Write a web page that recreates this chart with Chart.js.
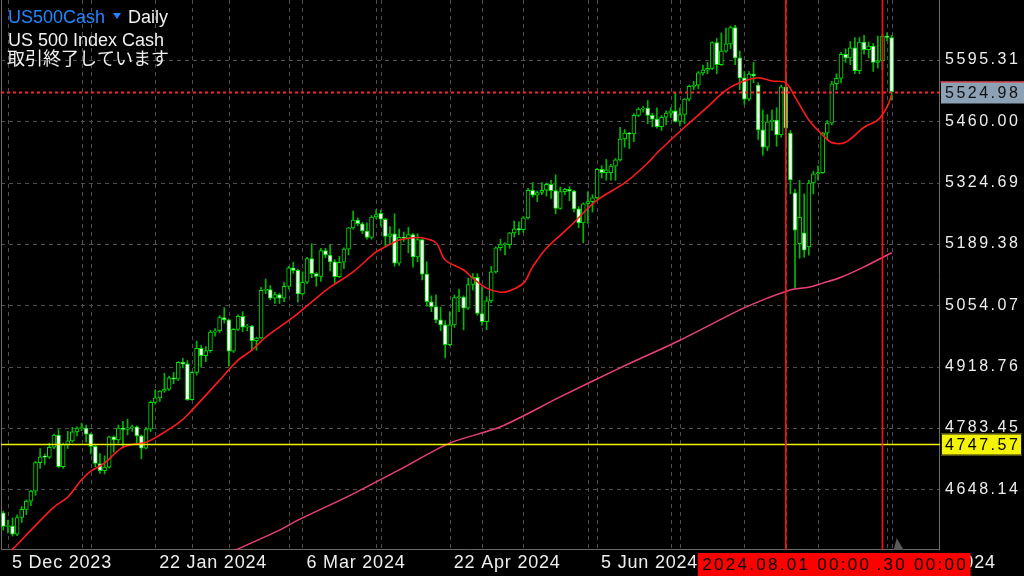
<!DOCTYPE html>
<html>
<head>
<meta charset="utf-8">
<script src="https://cdn.jsdelivr.net/npm/chart.js@4.4.1/dist/chart.umd.min.js"></script>
<style>
html, body { margin: 0; background: #000; }
canvas { display: block; }
</style>
</head>
<body>
<canvas id="chart" width="1024" height="576"></canvas>
<script>
// daily bars, Dec 4 2023 .. Sep 3 2024 (index 0..193), empty slots after that
const barCount = 204;

const opens = [
    4596, 4566, 4567, 4549, 4586, 4604, 4622, 4644, 4707, 4720,
    4719, 4741, 4768, 4698, 4747, 4755, 4775, 4782, 4783, 4770,
    4743, 4705, 4689, 4697, 4764, 4757, 4783, 4780, 4784, 4786,
    4766, 4739, 4781, 4840, 4850, 4865, 4869, 4894, 4891, 4928,
    4925, 4846, 4906, 4959, 4943, 4954, 4995, 4998, 5027, 5022,
    4953, 5001, 5030, 5006, 5008, 4976, 4982, 5087, 5089, 5070,
    5078, 5070, 5096, 5137, 5131, 5079, 5105, 5157, 5124, 5118,
    5175, 5165, 5150, 5117, 5149, 5178, 5225, 5242, 5234, 5218,
    5204, 5249, 5257, 5244, 5206, 5212, 5147, 5204, 5202, 5210,
    5161, 5199, 5123, 5062, 5051, 5022, 5011, 4967, 5011, 5071,
    5072, 5048, 5100, 5116, 5036, 5018, 5064, 5128, 5181, 5188,
    5188, 5214, 5223, 5221, 5247, 5308, 5297, 5303, 5308, 5321,
    5307, 5268, 5305, 5310, 5306, 5267, 5236, 5278, 5283, 5291,
    5354, 5347, 5347, 5361, 5375, 5421, 5434, 5432, 5473, 5487,
    5489, 5473, 5465, 5448, 5469, 5478, 5483, 5460, 5475, 5509,
    5537, 5540, 5567, 5573, 5577, 5634, 5585, 5615, 5631, 5667,
    5600, 5556, 5509, 5564, 5540, 5441, 5403, 5459, 5463, 5430,
    5536, 5434, 5302, 5190, 5214, 5183, 5324, 5344, 5347, 5434,
    5456, 5543, 5555, 5608, 5600, 5622, 5572, 5635, 5618, 5626,
    5590, 5594, 5648, 5645
];
const highs = [
    4600, 4580, 4585, 4592, 4610, 4625, 4646, 4710, 4738, 4726,
    4750, 4770, 4780, 4750, 4776, 4785, 4786, 4794, 4790, 4772,
    4745, 4727, 4722, 4765, 4766, 4790, 4798, 4803, 4790, 4788,
    4768, 4785, 4843, 4868, 4866, 4904, 4898, 4906, 4930, 4937,
    4932, 4908, 4975, 4966, 4963, 4999, 5003, 5031, 5049, 5024,
    5003, 5033, 5040, 5012, 5010, 4984, 5094, 5112, 5098, 5083,
    5080, 5104, 5140, 5149, 5134, 5128, 5160, 5190, 5126, 5180,
    5180, 5188, 5155, 5162, 5181, 5226, 5262, 5247, 5237, 5236,
    5252, 5265, 5264, 5246, 5228, 5256, 5222, 5216, 5226, 5213,
    5212, 5200, 5150, 5075, 5077, 5050, 5020, 5040, 5077, 5090,
    5075, 5114, 5124, 5124, 5095, 5073, 5140, 5183, 5200, 5192,
    5215, 5240, 5238, 5250, 5312, 5325, 5306, 5325, 5324, 5330,
    5342, 5315, 5312, 5316, 5308, 5272, 5280, 5305, 5298, 5356,
    5362, 5376, 5365, 5378, 5447, 5442, 5436, 5477, 5490, 5493,
    5506, 5478, 5490, 5473, 5483, 5490, 5524, 5490, 5510, 5540,
    5548, 5570, 5584, 5590, 5636, 5643, 5655, 5666, 5670, 5672,
    5615, 5570, 5570, 5590, 5545, 5485, 5475, 5485, 5490, 5540,
    5560, 5440, 5310, 5330, 5300, 5330, 5350, 5362, 5436, 5462,
    5548, 5565, 5612, 5620, 5636, 5645, 5645, 5650, 5635, 5632,
    5648, 5652, 5655, 5650
];
const lows = [
    4558, 4552, 4545, 4546, 4575, 4592, 4612, 4635, 4694, 4703,
    4716, 4738, 4696, 4694, 4738, 4752, 4766, 4778, 4752, 4726,
    4698, 4683, 4682, 4695, 4730, 4750, 4740, 4768, 4776, 4750,
    4715, 4737, 4775, 4836, 4842, 4862, 4866, 4881, 4888, 4916,
    4844, 4845, 4900, 4918, 4930, 4950, 4986, 4994, 5015, 4920,
    4950, 4998, 4996, 4998, 4954, 4955, 4980, 5080, 5066, 5058,
    5058, 5062, 5090, 5125, 5061, 5076, 5102, 5115, 5096, 5107,
    5159, 5130, 5104, 5115, 5135, 5165, 5222, 5230, 5212, 5200,
    5200, 5245, 5229, 5184, 5189, 5140, 5142, 5195, 5170, 5138,
    5150, 5110, 5052, 5040, 5015, 4998, 4938, 4965, 5005, 5040,
    5000, 5045, 5088, 5032, 5010, 5000, 5060, 5125, 5175, 5165,
    5180, 5205, 5210, 5215, 5244, 5293, 5283, 5298, 5295, 5290,
    5256, 5266, 5298, 5285, 5260, 5225, 5192, 5235, 5260, 5289,
    5335, 5330, 5330, 5330, 5372, 5403, 5400, 5415, 5470, 5480,
    5455, 5448, 5445, 5440, 5452, 5468, 5458, 5450, 5455, 5505,
    5530, 5532, 5562, 5565, 5574, 5565, 5583, 5612, 5620, 5585,
    5530, 5497, 5505, 5545, 5420, 5385, 5395, 5440, 5405, 5425,
    5410, 5300, 5092, 5158, 5160, 5165, 5300, 5330, 5345, 5420,
    5452, 5530, 5545, 5590, 5585, 5565, 5565, 5608, 5600, 5570,
    5578, 5575, 5638, 5507
];
const closes = [
    4566, 4567, 4549, 4586, 4604, 4622, 4644, 4707, 4720, 4719,
    4741, 4768, 4698, 4747, 4755, 4775, 4782, 4783, 4770, 4743,
    4705, 4689, 4697, 4764, 4757, 4783, 4780, 4784, 4786, 4766,
    4739, 4781, 4840, 4850, 4865, 4869, 4894, 4891, 4928, 4925,
    4846, 4906, 4959, 4943, 4954, 4995, 4998, 5027, 5022, 4953,
    5001, 5030, 5006, 5008, 4976, 4982, 5087, 5089, 5070, 5078,
    5070, 5096, 5137, 5131, 5079, 5105, 5157, 5124, 5118, 5175,
    5165, 5150, 5117, 5149, 5178, 5225, 5242, 5234, 5218, 5204,
    5249, 5254, 5244, 5206, 5212, 5147, 5204, 5202, 5210, 5161,
    5199, 5123, 5062, 5051, 5022, 5011, 4967, 5011, 5071, 5072,
    5048, 5100, 5116, 5036, 5018, 5064, 5128, 5181, 5188, 5188,
    5214, 5223, 5221, 5247, 5308, 5297, 5303, 5308, 5321, 5307,
    5268, 5305, 5310, 5306, 5267, 5236, 5278, 5283, 5291, 5354,
    5347, 5353, 5361, 5375, 5421, 5434, 5432, 5473, 5487, 5489,
    5473, 5465, 5448, 5469, 5478, 5483, 5460, 5475, 5509, 5537,
    5540, 5567, 5573, 5577, 5634, 5585, 5615, 5631, 5667, 5600,
    5556, 5509, 5564, 5560, 5441, 5403, 5459, 5463, 5430, 5536,
    5445, 5331, 5220, 5248, 5176, 5324, 5344, 5347, 5434, 5456,
    5543, 5555, 5608, 5600, 5622, 5572, 5635, 5618, 5626, 5590,
    5594, 5648, 5645, 5525
];

// moving averages at a few bars
const redMaIndex = [0, 2, 6, 11, 14, 17, 19, 22, 26, 31, 34, 38, 40, 47, 51, 54, 57, 63, 68, 71,
    76, 81, 83, 86, 89, 91, 94, 96, 100, 102, 105, 108, 110, 113, 115, 118, 123, 129, 135, 140,
    142, 145, 148, 153, 157, 160, 164, 167, 170, 172, 175, 178, 180, 183, 187, 190, 192, 193];
const redMaValues = [4500, 4516, 4558, 4609, 4631, 4669, 4688, 4706, 4741, 4752, 4768, 4794, 4812, 4889, 4933, 4955, 4984, 5028, 5070, 5094,
    5128, 5172, 5183, 5198, 5203, 5203, 5192, 5154, 5132, 5114, 5092, 5083, 5086, 5103, 5139, 5180, 5227, 5286, 5324, 5368,
    5390, 5419, 5447, 5492, 5529, 5545, 5556, 5549, 5545, 5514, 5463, 5430, 5413, 5414, 5447, 5463, 5492, 5518];
const pinkMaIndex = [48, 60, 64, 75, 86, 97, 108, 121, 134, 147, 160, 166, 171, 175, 178, 182, 187, 193];
const pinkMaValues = [4503, 4558, 4580, 4633, 4691, 4750, 4786, 4852, 4916, 4977, 5044, 5070, 5088, 5094, 5103, 5116, 5139, 5170];

const priceTicks = [4648.14, 4783.45, 4918.76, 5054.07, 5189.38, 5324.69, 5460.00, 5595.31];
const tickIndex = [1, 33, 65, 97, 129, 161, 193];
const tickLabels = ['5 Dec 2023', '22 Jan 2024', '6 Mar 2024', '22 Apr 2024', '5 Jun 2024', '19 Jul 2024', '3 Sep 2024'];
const gridIndex = [1, 17, 33, 49, 65, 81, 97, 113, 129, 145, 161, 177, 193];
const monthIndex = [19, 41, 62, 82, 104, 127, 147, 170, 192];

const bidPrice = 5524.98;
const levelPrice = 4747.57;
const crossIndex = [170, 191];
const crossLabels = ['2024.08.01 00:00', '2024.08.30 00:00'];

const FONT = '"Liberation Sans", Arial, sans-serif';

const labels = Array.from({length: barCount}, (_, i) => i);
const wicks = lows.map((l, i) => [l, highs[i]]);
const bodies = opens.map((o, i) => [o, closes[i]]);
const bodyFill = closes.map((c, i) => (c < opens[i] ? '#ffffff' : '#000000'));

const sparse = (idx, vals) => {
    let arr = new Array(barCount).fill(null);
    idx.forEach((k, j) => { arr[k] = vals[j]; });
    return arr;
};

const line = (ctx, x1, y1, x2, y2) => {
    ctx.beginPath();
    ctx.moveTo(x1, y1);
    ctx.lineTo(x2, y2);
    ctx.stroke();
};

const noPadding = (scale) => {
    scale.paddingTop = 0;
    scale.paddingBottom = 0;
    scale.paddingLeft = 0;
    scale.paddingRight = 0;
};

const decor = {
    id: 'decor',
    beforeDraw(chart) {
        const ctx = chart.ctx;
        ctx.save();
        ctx.fillStyle = '#000';
        ctx.fillRect(0, 0, chart.width, chart.height);
        ctx.restore();
        ctx.letterSpacing = '0.8px';
    },
    beforeDatasetsDraw(chart) {
        const {ctx, chartArea: a, scales: {x, y}} = chart;
        ctx.save();
        ctx.strokeStyle = '#4e4e4e';
        ctx.lineWidth = 1;
        ctx.setLineDash([4, 4]);
        priceTicks.forEach(p => {
            const py = Math.round(y.getPixelForValue(p)) + 0.5;
            line(ctx, a.left, py, a.right, py);
        });
        gridIndex.concat(monthIndex).forEach(i => {
            const px = Math.round(x.getPixelForValue(i)) + 0.5;
            line(ctx, px, a.top, px, a.bottom);
        });
        ctx.setLineDash([]);
        ctx.strokeStyle = '#6a6a6a';
        line(ctx, a.left + 0.5, a.top, a.left + 0.5, a.bottom);
        line(ctx, a.right - 0.5, a.top, a.right - 0.5, a.bottom + 0.5);
        line(ctx, a.left, a.bottom - 0.5, a.right, a.bottom - 0.5);
        ctx.restore();
    },
    afterDatasetsDraw(chart) {
        // price axis labels are drawn after this (ticks z: 1)
        chart.ctx.letterSpacing = '2.5px';
    },
    afterDraw(chart) {
        const {ctx, chartArea: a, scales: {x, y}} = chart;
        ctx.save();

        // level line
        const ly = Math.round(y.getPixelForValue(levelPrice)) + 0.5;
        ctx.strokeStyle = '#f2f200';
        ctx.lineWidth = 1.5;
        line(ctx, a.left, ly, a.right, ly);

        // bid line
        const by = Math.round(y.getPixelForValue(bidPrice)) + 0.5;
        ctx.strokeStyle = '#ff2222';
        ctx.lineWidth = 2;
        ctx.setLineDash([3, 3]);
        line(ctx, a.left, by, a.right, by);
        ctx.setLineDash([]);

        // crosshair lines
        ctx.strokeStyle = '#ff1010';
        ctx.lineWidth = 1.6;
        crossIndex.forEach(i => {
            const px = x.getPixelForValue(i);
            line(ctx, px, a.top, px, a.bottom);
        });

        // price boxes
        ctx.letterSpacing = '2.5px';
        ctx.font = '16px ' + FONT;
        ctx.textBaseline = 'middle';
        ctx.textAlign = 'left';
        ctx.fillStyle = '#8da1b5';
        ctx.fillRect(a.right + 1, by - 11, 84, 22);
        ctx.strokeStyle = '#ff2222';
        ctx.lineWidth = 1;
        line(ctx, a.right, by - 10.5, 1024, by - 10.5);
        ctx.fillStyle = '#111';
        ctx.fillText(bidPrice.toFixed(2), a.right + 5, by + 1);

        ctx.fillStyle = '#f4f400';
        ctx.fillRect(a.right + 1, ly - 11, 81, 22);
        ctx.strokeStyle = '#222';
        ctx.strokeRect(a.right + 1.5, ly - 10.5, 80, 21);
        ctx.fillStyle = '#000';
        ctx.fillText(levelPrice.toFixed(2), a.right + 5, ly + 1);

        // chart shift marker
        const sx = x.getPixelForValue(193) + 5;
        ctx.fillStyle = '#5a5a5a';
        ctx.beginPath();
        ctx.moveTo(sx, a.bottom - 12);
        ctx.lineTo(sx + 7, a.bottom);
        ctx.lineTo(sx - 3, a.bottom);
        ctx.closePath();
        ctx.fill();

        // crosshair time labels, the earlier one on top
        ctx.font = '17px ' + FONT;
        ctx.letterSpacing = '2.3px';
        ctx.textAlign = 'center';
        for (let k = crossIndex.length - 1; k >= 0; k--) {
            const px = x.getPixelForValue(crossIndex[k]);
            ctx.fillStyle = '#ff0000';
            ctx.fillRect(px - 88, a.bottom + 3, 176, 23);
            ctx.fillStyle = '#000';
            ctx.fillText(crossLabels[k], px + 1, a.bottom + 15);
        }

        // symbol header
        ctx.letterSpacing = '0px';
        ctx.textAlign = 'left';
        ctx.textBaseline = 'alphabetic';
        ctx.font = '18px ' + FONT;
        ctx.fillStyle = '#2186ff';
        ctx.fillText('US500Cash', 8, 23);
        ctx.beginPath();
        ctx.moveTo(113, 13);
        ctx.lineTo(121, 13);
        ctx.lineTo(117, 19);
        ctx.closePath();
        ctx.fill();
        ctx.fillStyle = '#f0f0f0';
        ctx.fillText('Daily', 128, 23);
        ctx.fillText('US 500 Index Cash', 8, 46);
        ctx.font = '18px "Noto Sans CJK JP", sans-serif';
        ctx.fillText('取引終了しています', 7, 65);

        ctx.restore();
    },
};

const ctx = document.getElementById('chart').getContext('2d');

new Chart(ctx, {
    type: 'bar',
    data: {
        labels: labels,
        datasets: [
            {
                label: 'wick',
                data: wicks,
                backgroundColor: '#00b800',
                barThickness: 1,
                grouped: false,
                order: 3,
            },
            {
                label: 'body',
                data: bodies,
                backgroundColor: bodyFill,
                borderColor: '#00e000',
                borderWidth: 1,
                borderSkipped: false,
                barThickness: 4,
                minBarLength: 1,
                grouped: false,
                order: 2,
            },
            {
                type: 'line',
                label: 'MA fast',
                data: sparse(redMaIndex, redMaValues),
                borderColor: '#ff1a1a',
                borderWidth: 1.6,
                pointRadius: 0,
                spanGaps: true,
                tension: 0.35,
                order: 1,
            },
            {
                type: 'line',
                label: 'MA slow',
                data: sparse(pinkMaIndex, pinkMaValues),
                borderColor: '#ea3f7c',
                borderWidth: 1.5,
                pointRadius: 0,
                spanGaps: true,
                tension: 0.3,
                order: 1,
            },
        ],
    },
    options: {
        responsive: false,
        animation: false,
        devicePixelRatio: 1,
        layout: {
            autoPadding: false,
            padding: {left: 1, top: 0, right: 0, bottom: 0},
        },
        plugins: {
            legend: {display: false},
            tooltip: {enabled: false},
        },
        scales: {
            x: {
                grid: {display: false, drawTicks: false},
                border: {display: false},
                afterBuildTicks: (scale) => {
                    scale.ticks = tickIndex.map(v => ({value: v}));
                },
                afterFit: (scale) => {
                    scale.height = 26;
                    noPadding(scale);
                },
                ticks: {
                    autoSkip: false,
                    maxRotation: 0,
                    align: 'start',
                    labelOffset: 4,
                    padding: 2,
                    color: '#eeeeee',
                    font: {family: FONT, size: 18},
                    callback: (value) => {
                        const k = tickIndex.indexOf(value);
                        return k >= 0 ? tickLabels[k] : '';
                    },
                },
            },
            y: {
                position: 'right',
                min: 4514.2,
                max: 5727.7,
                grid: {display: false, drawTicks: false},
                border: {display: false},
                afterBuildTicks: (scale) => {
                    scale.ticks = priceTicks.map(v => ({value: v}));
                },
                afterFit: (scale) => {
                    scale.width = 84;
                    noPadding(scale);
                },
                ticks: {
                    z: 1,
                    padding: 5,
                    color: '#eeeeee',
                    font: {family: FONT, size: 16},
                    callback: (value) => value.toFixed(2),
                },
            },
        },
    },
    plugins: [decor],
});
</script>
</body>
</html>
